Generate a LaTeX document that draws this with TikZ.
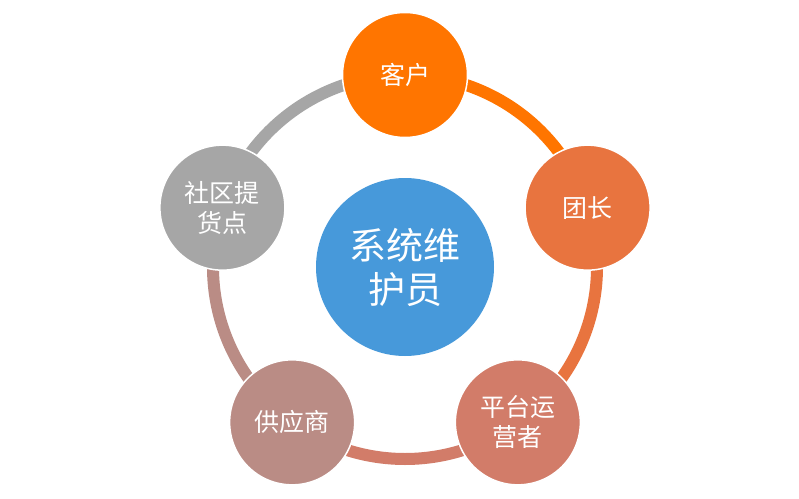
\documentclass[tikz,border=0pt]{standalone}
\usepackage{fontspec}
\newfontfamily\cjk{Noto Sans CJK SC}
\definecolor{cA}{HTML}{FF7500}
\definecolor{cB}{HTML}{E8743F}
\definecolor{cC}{HTML}{D27C69}
\definecolor{cD}{HTML}{BA8C85}
\definecolor{cE}{HTML}{A6A6A6}
\definecolor{cM}{HTML}{4799DA}
\begin{document}
\begin{tikzpicture}[x=1pt,y=1pt,
  outer/.style={circle,draw=white,line width=1.5pt,minimum size=125pt,inner sep=0pt,text=white,align=center,font=\cjk\fontsize{25}{30}\selectfont},
  ring/.style={line width=12pt}]
\useasboundingbox[fill=white] (-405,-231) rectangle (394,267);
\coordinate (o) at (0,0);
\draw[ring,cA] (90:192) arc[start angle=90,end angle=18,radius=192];
\draw[ring,cB] (18:192) arc[start angle=18,end angle=-54,radius=192];
\draw[ring,cC] (-54:192) arc[start angle=-54,end angle=-126,radius=192];
\draw[ring,cD] (-126:192) arc[start angle=-126,end angle=-198,radius=192];
\draw[ring,cE] (162:192) arc[start angle=162,end angle=90,radius=192];
\node[outer,fill=cA] (kh) at (90:192) {客户};
\node[outer,fill=cB] (tz) at (18:192) {团长};
\node[outer,fill=cC] (pt) at (-54:192) {平台运\\营者};
\node[outer,fill=cD] (gy) at (-126:192) {供应商};
\node[outer,fill=cE] (sq) at (162:192) {社区提\\货点};
\node[circle,fill=cM,minimum size=178pt,inner sep=0pt,text=white,align=center,font=\cjk\fontsize{37}{44}\selectfont] (m) at (o) {系统维\\护员};
\end{tikzpicture}
\end{document}
